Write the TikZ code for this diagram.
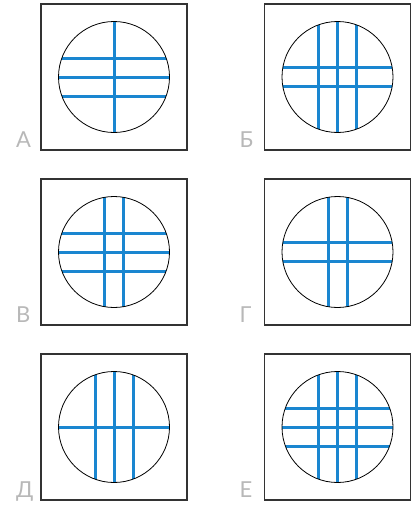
\documentclass[tikz,border=0pt]{standalone}
\usepackage{fontspec}
\setmainfont{Lato}
\definecolor{lineblue}{HTML}{1A86D0}
\definecolor{labelgray}{HTML}{B8B8B8}
\definecolor{framegray}{HTML}{333333}
\tikzset{
  frame/.style={draw=framegray, line width=1.3pt},
  disc/.style={draw=black, line width=0.8pt},
  gridline/.style={draw=lineblue, line width=3pt},
  lbl/.style={text=labelgray, font=\fontsize{22}{22}\selectfont, anchor=base west, inner sep=0pt}
}
\newcommand\mypanel[6]{% name, cx, cy, horizontal offsets, vertical offsets, label
  \begin{scope}[shift={(#2,#3)}]
    \draw[frame] (-73,-73) rectangle (73,73);
    \begin{scope}
      \clip (0,0) circle (55.5);
      \foreach \o in {#4} \draw[gridline] (-60,\o) -- (60,\o);
      \foreach \o in {#5} \draw[gridline] (\o,-60) -- (\o,60);
    \end{scope}
    \draw[disc] (0,0) circle (55.5);
    \node[lbl] (#1) at (-98,70.5) {#6};
  \end{scope}}
\begin{document}
\begin{tikzpicture}[x=1pt,y=-1pt]
  \useasboundingbox (0,0) rectangle (413,506);
  \mypanel{la}{114}{77}{-19,0,19}{0}{А}
  \mypanel{lb}{337.5}{77}{-9.5,9.5}{-19,0,19}{Б}
  \mypanel{lv}{114}{252}{-19,0,19}{-9.5,9.5}{В}
  \mypanel{lg}{337.5}{252}{-9.5,9.5}{-9.5,9.5}{Г}
  \mypanel{ld}{114}{427}{0}{-19,0,19}{Д}
  \mypanel{le}{337.5}{427}{-19,0,19}{-19,0,19}{Е}
\end{tikzpicture}
\end{document}
